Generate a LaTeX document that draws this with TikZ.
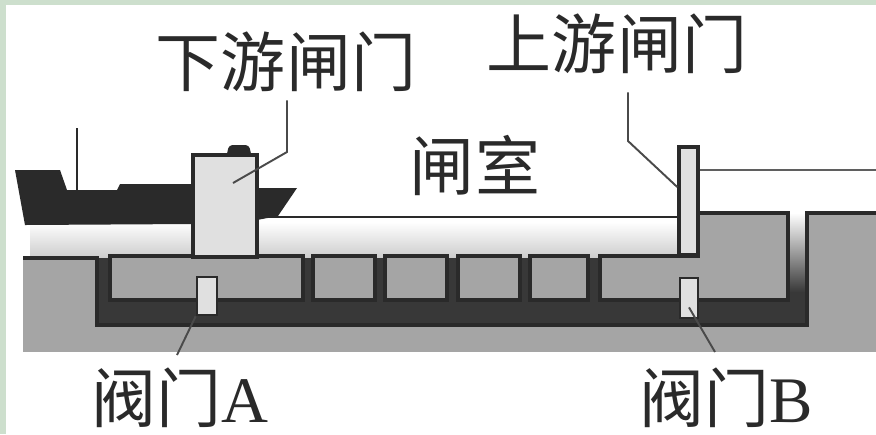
\documentclass[tikz,border=0pt]{standalone}
\usepackage{fontspec}
\setmainfont{Liberation Serif}
\newfontfamily\cjk{Noto Sans CJK SC}
\usetikzlibrary{positioning}

\definecolor{frame}{RGB}{205,223,205}
\definecolor{ink}{RGB}{42,42,42}
\definecolor{soil}{RGB}{165,165,165}
\definecolor{duct}{RGB}{56,56,56}
\definecolor{panel}{RGB}{224,224,224}

\begin{document}
\begin{tikzpicture}[x=0.02cm, y=-0.02cm,
  lbl/.style={font=\fontsize{37}{37}\selectfont\cjk, inner sep=0pt, text=ink},
  block/.style={fill=soil, draw=ink, line width=2pt},
  gate/.style={fill=panel, draw=ink, line width=2pt, inner sep=0pt},
  valve/.style={fill=panel, draw=ink, line width=1.6pt, inner sep=0pt},
  leader/.style={draw=ink!85, line width=1.1pt}
]
\useasboundingbox (0,0) rectangle (876,434);
\fill[frame] (0,0) rectangle (876,434);
\fill[white] (6,5) rectangle (876,434);

% water below the ship and in the chamber
\shade[top color=white, bottom color=gray!40] (30,222) rectangle (690,258);

% ground, culvert and chamber floor
\fill[soil] (23,258) rectangle (876,352);
\fill[soil] (807,213) rectangle (876,258);
\fill[duct] (97,258) rectangle (807,325);
\shade[top color=white, bottom color=duct] (788,213) rectangle (807,292);
\draw[block] (110,256) rectangle (303,300);
\draw[block] (313,256) rectangle (375,300);
\draw[block] (385,256) rectangle (447,300);
\draw[block] (458,256) rectangle (520,300);
\draw[block] (530,256) rectangle (588,300);
\draw[block] (600,256) -- (698,256) -- (698,213) -- (788,213) -- (788,300) -- (600,300) -- cycle;
\draw[ink, line width=2pt] (23,258) -- (97,258) -- (97,325) -- (807,325) -- (807,213) -- (876,213);

% ship
\fill[ink] (15,170) -- (60,170) -- (67,190) -- (117,190) -- (120,184) -- (200,184)
  -- (257,188) -- (297,188) -- (278,216) -- (257,220) -- (193,224) -- (25,225) -- cycle;
\draw[ink, line width=1.5pt] (77,128) -- (77,190);
\fill[ink, rounded corners=2pt] (226,158) -- (229,145) -- (249,145) -- (252,158) -- cycle;

% valves
\node[valve, minimum width=0.4cm, minimum height=0.76cm] (valveA) at (207,296) {};
\node[valve, minimum width=0.36cm, minimum height=0.8cm] (valveB) at (689,298) {};

% gates
\node[gate, minimum width=1.28cm, minimum height=2.04cm] (dgate) at (225,206) {};
\node[gate, minimum width=0.38cm, minimum height=2.16cm] (ugate) at (688.5,201) {};

% water levels
\draw[ink, line width=1.6pt] (dgate.east |- 0,217) -- (ugate.west |- 0,217);
\draw[ink!75, line width=1.2pt] (ugate.east |- 0,170) -- (876,170);

% labels
\node[lbl] (downlbl) at (286,62) {下游闸门};
\node[lbl] (uplbl) at (617,44) {上游闸门};
\node[lbl] (room) at (475,165) {闸室};
\node[lbl] (valveAlbl) at (180,398) {阀门\rmfamily A};
\node[lbl] (valveBlbl) at (726,398) {阀门\rmfamily B};

\coordinate (dgbend) at (287,152);
\coordinate (dgtip) at (233,183);
\coordinate (ugbend) at (628,141);
\coordinate (ugtip) at (ugate.west |- 0,187);
\coordinate (vAfoot) at (177,355);
\coordinate (vBfoot) at (715,352);

\draw[leader] (downlbl.south -| dgbend) ++(0,8) -- (dgbend) -- (dgtip);
\draw[leader] (uplbl.south -| ugbend) ++(0,18) -- (ugbend) -- (ugtip);
\draw[leader] (valveA.south west) -- (vAfoot);
\draw[leader] (valveB.south) ++(0,-12) -- (vBfoot);
\end{tikzpicture}
\end{document}
